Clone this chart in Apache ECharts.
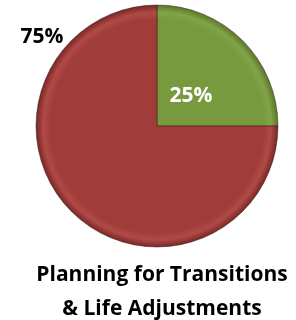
<!DOCTYPE html>
<html lang="en">
<head>
    <meta charset="UTF-8">
    <title>Planning for Transitions & Life Adjustments</title>
    <style>
        html, body { margin: 0; padding: 0; background: #fff; }
        #chart { width: 296px; height: 320px; }
    </style>
</head>
<body>
    <div id="chart"></div>
    <script src="https://cdn.jsdelivr.net/npm/echarts@6/dist/echarts.min.js"></script>
    <script>
        var categories = ['Yes', 'No'];
        var values = [25, 75];
        var labels = ['25%', '75%'];
        var colors = [
            ['#82a448', '#789a3e', '#5a772a'],
            ['#b04a47', '#a03c3a', '#772726']
        ];

        var cx = 157, cy = 126, r = 121;

        // radial shading over the whole pie, rim a bit lighter then dark
        function shade(c) {
            return {
                type: 'radial', x: cx, y: cy, r: r, global: true,
                colorStops: [
                    { offset: 0, color: c[1] },
                    { offset: 0.88, color: c[1] },
                    { offset: 0.94, color: c[0] },
                    { offset: 1, color: c[2] }
                ]
            };
        }

        var data = categories.map(function (name, i) {
            return {
                name: name,
                value: values[i],
                itemStyle: { color: shade(colors[i]) },
                label: {
                    color: i === 0 ? '#ffffff' : '#000000'
                }
            };
        });

        var myChart = echarts.init(document.getElementById('chart'));
        var option = {
            animation: false,
            title: {
                text: 'Planning for Transitions\n& Life Adjustments',
                left: 157,
                top: 253,
                textAlign: 'center',
                textStyle: {
                    fontFamily: 'Open Sans',
                    fontWeight: 'bold',
                    fontSize: 21,
                    lineHeight: 34,
                    color: '#000'
                }
            },
            series: [{
                type: 'pie',
                center: [cx, cy],
                radius: [0, r],
                startAngle: 90,
                clockwise: true,
                data: data,
                itemStyle: { borderColor: 'rgba(50,15,15,0.45)', borderWidth: 1 },
                label: {
                    show: true,
                    position: 'inside',
                    formatter: function (p) { return labels[p.dataIndex]; },
                    fontFamily: 'Open Sans',
                    fontWeight: 'bold',
                    fontSize: 21
                },
                labelLine: { show: false },
                labelLayout: function (p) {
                    if (p.dataIndex === 0) {
                        return { x: 191, y: 96, align: 'center', verticalAlign: 'middle' };
                    }
                    return { x: 42, y: 37, align: 'center', verticalAlign: 'middle' };
                }
            }]
        };
        myChart.setOption(option);
    </script>
</body>
</html>
